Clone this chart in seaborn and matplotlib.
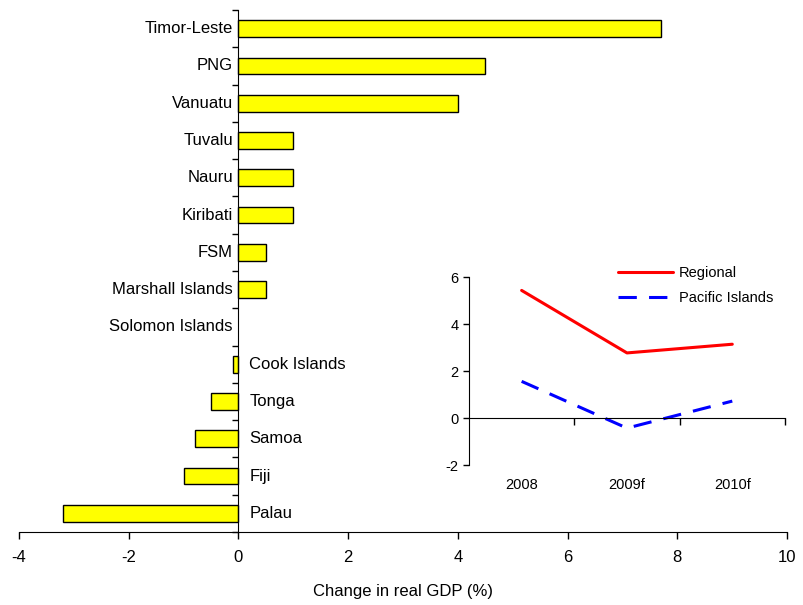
import numpy as np
import matplotlib.pyplot as plt
import seaborn as sns
import pandas as pd

countries = ['Timor-Leste', 'PNG', 'Vanuatu', 'Tuvalu', 'Nauru', 'Kiribati', 'FSM',
             'Marshall Islands', 'Solomon Islands', 'Cook Islands', 'Tonga', 'Samoa',
             'Fiji', 'Palau']
gdp_change = [7.7, 4.5, 4.0, 1.0, 1.0, 1.0, 0.5, 0.5, 0.0, -0.1, -0.5, -0.8, -1.0, -3.2]

years = ['2008', '2009f', '2010f']
regional = [5.43, 2.77, 3.14]
pacific = [1.56, -0.43, 0.72]

sns.set_style('white')
plt.rcParams['font.family'] = ['Liberation Sans', 'DejaVu Sans']
plt.rcParams['axes.unicode_minus'] = False
plt.rcParams['text.color'] = 'black'
plt.rcParams['xtick.color'] = 'black'
plt.rcParams['ytick.color'] = 'black'
plt.rcParams['axes.labelcolor'] = 'black'

df = pd.DataFrame({'country': countries, 'gdp': gdp_change})
df_line = pd.DataFrame({
    'year': years * 2,
    'value': regional + pacific,
    'series': ['Regional'] * 3 + ['Pacific Islands'] * 3,
})

fig = plt.figure(figsize=(8.04, 6.05), dpi=100)
ax = fig.add_axes([0.0236, 0.1207, 0.9552, 0.8628])
sns.barplot(data=df, x='gdp', y='country', orient='h', color='#FFFF00',
            edgecolor='black', linewidth=1, width=0.45, saturation=1, ax=ax)
# zero-width bars show no outline
for p in ax.patches:
    if abs(p.get_width()) < 1e-9:
        p.set_linewidth(0)
ax.set_xlim(-4, 10)
ax.set_ylim(len(countries) - 0.5, -0.5)
ax.set_xticks(np.arange(-4, 11, 2))
ax.tick_params(axis='x', direction='out', length=5, width=1, labelsize=12, pad=8, bottom=True)
ax.set_yticks(np.arange(len(countries)) + 0.5, minor=True)
ax.set_yticks([-0.5], minor=False)
ax.set_yticklabels([])
ax.tick_params(axis='y', which='both', direction='out', length=4, width=1, left=True)
for s in ['top', 'right']:
    ax.spines[s].set_visible(False)
ax.spines['left'].set_position(('data', 0))
ax.spines['left'].set_color('black')
ax.spines['bottom'].set_color('black')
ax.set_ylabel('')
ax.set_xlabel('Change in real GDP (%)', fontsize=12, labelpad=14)

for i, (name, v) in enumerate(zip(countries, gdp_change)):
    if v >= 0:
        ax.text(-0.1, i, name, ha='right', va='center', fontsize=12)
    else:
        ax.text(0.2, i, name, ha='left', va='center', fontsize=12)

# inset
ax2 = fig.add_axes([0.5833, 0.2314, 0.393, 0.3107])
sns.lineplot(data=df_line, x='year', y='value', hue='series', style='series',
             palette={'Regional': '#FF0000', 'Pacific Islands': '#0000FF'},
             dashes={'Regional': '', 'Pacific Islands': (6, 4)},
             linewidth=2.2, ax=ax2)
ax2.set_xlim(-0.5, 2.5)
ax2.set_ylim(-2, 6)
ax2.set_yticks([-2, 0, 2, 4, 6])
ax2.set_xticks([0.5, 1.5, 2.5], minor=True)
ax2.spines['bottom'].set_position(('data', 0))
for s in ['top', 'right']:
    ax2.spines[s].set_visible(False)
ax2.spines['left'].set_color('black')
ax2.spines['bottom'].set_color('black')
ax2.tick_params(axis='x', which='major', length=0, pad=43, labelsize=10.5)
ax2.tick_params(axis='x', which='minor', direction='out', length=5, width=1, bottom=True)
ax2.tick_params(axis='y', direction='out', length=4, width=1, labelsize=10.5, left=True)
ax2.set_xlabel('')
ax2.set_ylabel('')
ax2.patch.set_alpha(0)
leg = ax2.legend(loc='upper left', bbox_to_anchor=(0.43, 1.13), frameon=False,
                 fontsize=10.5, handlelength=3.8, handletextpad=0.4, labelspacing=0.8)

fig.savefig('out.png', dpi=100)
